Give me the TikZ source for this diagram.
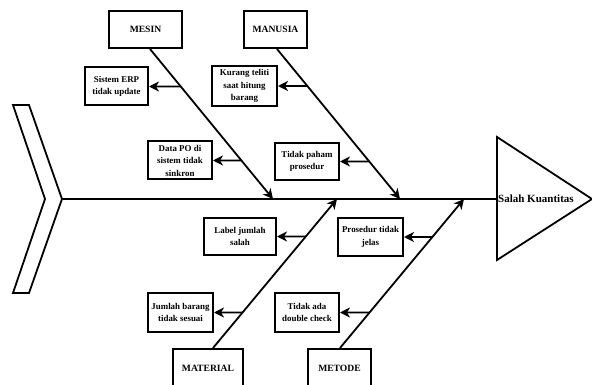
\documentclass[tikz,border=0pt]{standalone}
\usepackage{fontspec}
\setmainfont{Liberation Serif}
\usepackage{tikz}
\usetikzlibrary{arrows.meta, calc}
\tikzstyle{category} = [rectangle, draw=black, line width=2pt, minimum height=37pt, inner sep=1pt, text centered, font=\fontsize{9.6}{11}\selectfont\bfseries]
\tikzstyle{cause} = [rectangle, draw=black, line width=2pt, minimum width=64pt, minimum height=38pt, inner sep=1pt, align=center, font=\fontsize{8.9}{12.5}\selectfont\bfseries]
\tikzstyle{bone} = [line width=1.8pt,-{Stealth[length=10pt,width=10pt,inset=3pt]}]
\tikzstyle{subarrow} = [line width=1.8pt,-{Stealth[length=10pt,width=10pt,inset=3pt]}]
\tikzstyle{spine} = [line width=1.8pt]

\begin{document}
\begin{tikzpicture}[x=1pt, y=-1pt]
\useasboundingbox (0,0) rectangle (592,385);

% Head (effect)
\draw[line width=1.8pt] (497,137) -- (592,199) -- (497,260) -- cycle;
\node[anchor=west, inner sep=1pt, font=\fontsize{11}{13}\selectfont\bfseries] (head) at (497,199) {Salah Kuantitas};

% Tail
\draw[line width=1.8pt] (13,105) -- (29,105) -- (62,199) -- (29,293) -- (13,293) -- (45,199) -- cycle;
\coordinate (tail) at (62,199);

% Spine
\draw[spine] (tail) -- (head.west);

% Points on spine
\coordinate (s1) at (273,199);
\coordinate (s2) at (400,199);
\coordinate (s3) at (337,199);
\coordinate (s4) at (464,199);

% Categories
\node[category, minimum width=73pt] (mesin) at (145.5,29.5) {MESIN};
\node[category, minimum width=63pt] (manusia) at (275.5,29.5) {MANUSIA};
\node[category, minimum width=70pt, minimum height=39pt] (material) at (208,368.5) {MATERIAL};
\node[category, minimum width=63pt, minimum height=39pt] (metode) at (339.5,368.5) {METODE};

% Causes
\node[cause, minimum width=63pt] (erp) at (116.5,86.5) {Sistem ERP\\tidak update};
\node[cause, minimum width=65pt, minimum height=40pt] (teliti) at (244.5,86) {Kurang teliti\\saat hitung\\barang};
\node[cause] (datapo) at (180,160.5) {Data PO di\\sistem tidak\\sinkron};
\node[cause, minimum height=37pt] (paham) at (307,161.5) {Tidak paham\\prosedur};
\node[cause, minimum width=72pt, minimum height=37pt] (label) at (240,236.5) {Label jumlah\\salah};
\node[cause, minimum width=65pt] (prosedur) at (370.5,237) {Prosedur tidak\\jelas};
\node[cause, minimum width=65pt, minimum height=39pt] (jumlah) at (180.5,312.5) {Jumlah barang\\tidak sesuai};
\node[cause, minimum height=39pt] (dcheck) at (307,312.5) {Tidak ada\\double check};

% Bones
\draw[bone] ([xshift=4.5pt]mesin.south) -- (s1);
\draw[bone] ([xshift=1.5pt]manusia.south) -- (s2);
\draw[bone] ([xshift=5pt]material.north) -- (s3);
\draw[bone] ([xshift=0.5pt]metode.north) -- (s4);

% Sub causes
\draw[subarrow] (intersection cs: first line={([xshift=4.5pt]mesin.south)--(s1)}, second line={(erp.east)--(erp.west)}) -- (erp.east);
\draw[subarrow] (intersection cs: first line={([xshift=4.5pt]mesin.south)--(s1)}, second line={(datapo.east)--(datapo.west)}) -- (datapo.east);
\draw[subarrow] (intersection cs: first line={([xshift=1.5pt]manusia.south)--(s2)}, second line={(teliti.east)--(teliti.west)}) -- (teliti.east);
\draw[subarrow] (intersection cs: first line={([xshift=1.5pt]manusia.south)--(s2)}, second line={(paham.east)--(paham.west)}) -- (paham.east);
\draw[subarrow] (intersection cs: first line={([xshift=5pt]material.north)--(s3)}, second line={(label.east)--(label.west)}) -- (label.east);
\draw[subarrow] (intersection cs: first line={([xshift=5pt]material.north)--(s3)}, second line={(jumlah.east)--(jumlah.west)}) -- (jumlah.east);
\draw[subarrow] (intersection cs: first line={([xshift=0.5pt]metode.north)--(s4)}, second line={(prosedur.east)--(prosedur.west)}) -- (prosedur.east);
\draw[subarrow] (intersection cs: first line={([xshift=0.5pt]metode.north)--(s4)}, second line={(dcheck.east)--(dcheck.west)}) -- (dcheck.east);

\end{tikzpicture}
\end{document}
